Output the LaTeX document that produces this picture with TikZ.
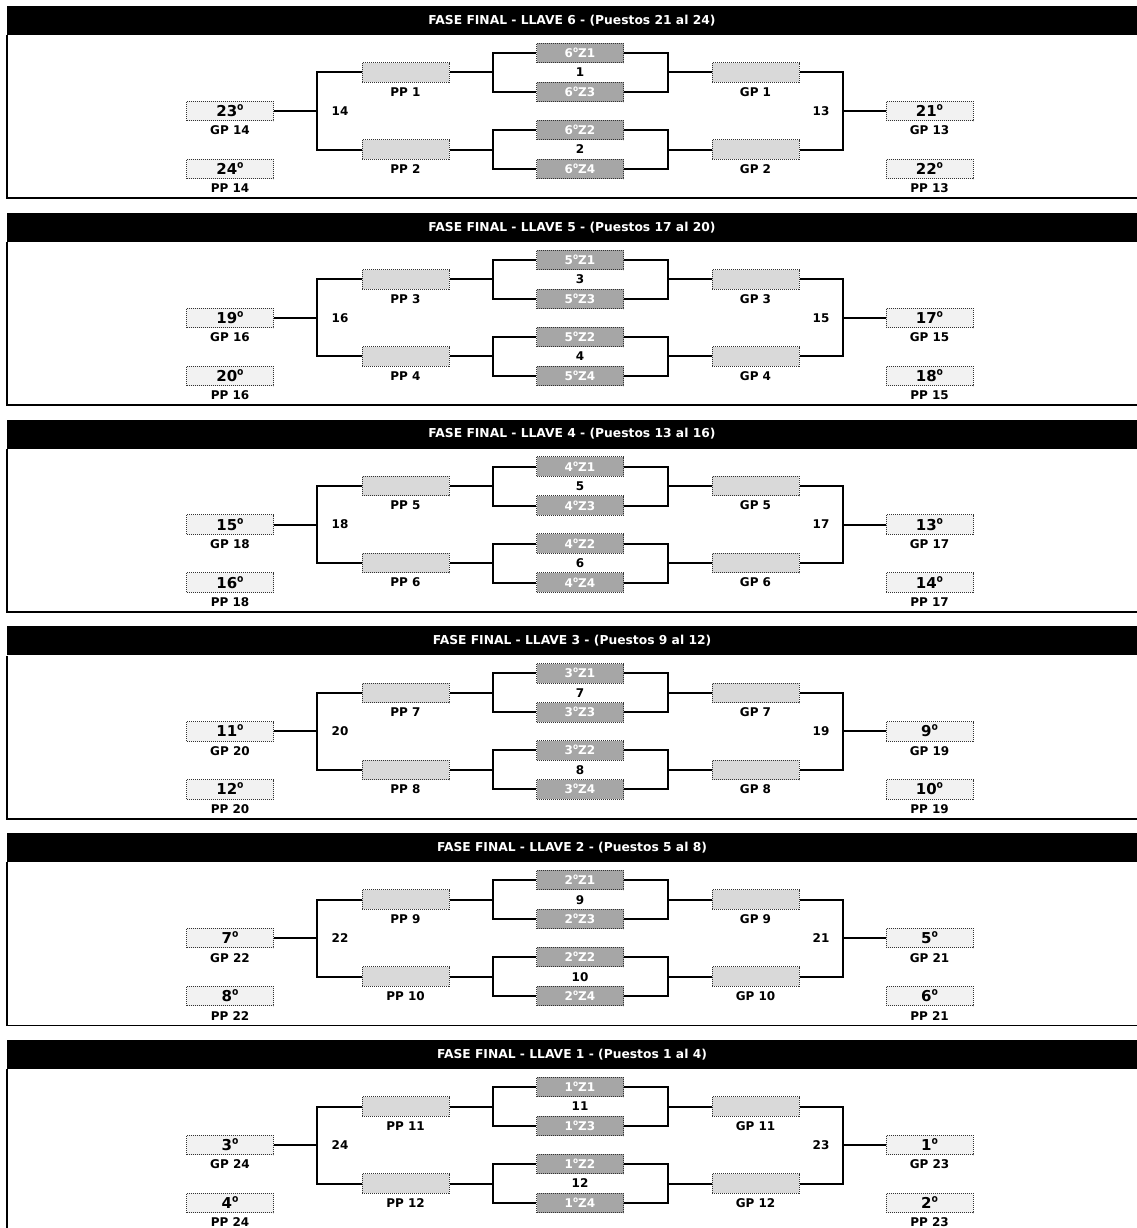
\documentclass[tikz,border=0pt]{standalone}
\usepackage{fontspec}
\setmainfont{DejaVu Sans}
\newfontfamily\ordfont[Scale=1.1]{Open Sans}
\newcommand\ord{{\ordfont\bfseries º}}
\usetikzlibrary{positioning}

\begin{document}
\begin{tikzpicture}[x=1pt,y=-1pt,
    every node/.style={font=\bfseries\fontsize{12}{14}\selectfont,inner sep=0pt},
    head/.style={fill=black,text=white,minimum width=1130pt,minimum height=29pt,
      font=\bfseries\fontsize{12.3}{14}\selectfont},
    slot/.style={draw=black!80,densely dotted,line width=1pt,
      minimum width=87pt,minimum height=19.5pt,text height=8.8pt,text depth=0pt},
    seedbox/.style={slot,fill=black!35,text=white},
    matchbox/.style={slot,fill=black!15},
    placebox/.style={slot,fill=black!5,font=\bfseries\fontsize{15}{17}\selectfont,
      text height=11pt},
    wire/.style={line width=2pt},
    frame/.style={line width=1.8pt}]
  \useasboundingbox (0,0) rectangle (1137,1228);
  % one panel per llave, llave 6 on top
  \foreach \k in {0,...,5}{
    \pgfmathtruncatemacro\lv{6-\k}
    \pgfmathtruncatemacro\pfirst{4*\lv-3}
    \pgfmathtruncatemacro\psecond{4*\lv-2}
    \pgfmathtruncatemacro\pthird{4*\lv-1}
    \pgfmathtruncatemacro\plast{4*\lv}
    \pgfmathtruncatemacro\ma{2*\k+1}
    \pgfmathtruncatemacro\mb{2*\k+2}
    \pgfmathtruncatemacro\fr{2*\k+13}
    \pgfmathtruncatemacro\fl{2*\k+14}
    \pgfmathsetmacro\yo{6+206.8*\k}
    \begin{scope}[shift={(0,\yo)}]
      % title bar and frame
      \node[head] (hd) at (572,14.5) {FASE FINAL - LLAVE \lv{} - (Puestos \pfirst{} al \plast)};
      \draw[frame] (hd.south west) -- ++(0,163) -- ++(1130,0);
      % seeded teams (centre)
      \node[seedbox] (z1) at (580,47) {\lv\ord Z1};
      \node[seedbox] (z3) at (580,86) {\lv\ord Z3};
      \node[seedbox] (z2) at (580,124) {\lv\ord Z2};
      \node[seedbox] (z4) at (580,163) {\lv\ord Z4};
      \node (na) at (580,66.5) {\ma};
      \node (nb) at (580,143.5) {\mb};
      % losers (left) and winners (right) of the first round
      \node[matchbox] (pp1) at (405.5,66.5) {};
      \node[matchbox] (pp2) at (405.5,143.5) {};
      \node[matchbox] (gp1) at (755.5,66.5) {};
      \node[matchbox] (gp2) at (755.5,143.5) {};
      \node[below=4.5pt of pp1] {PP \ma};
      \node[below=4.5pt of pp2] {PP \mb};
      \node[below=4.5pt of gp1] {GP \ma};
      \node[below=4.5pt of gp2] {GP \mb};
      % final places
      \node[placebox] (lw) at (230,105) {\pthird\ord};
      \node[placebox] (ll) at (230,163) {\plast\ord};
      \node[placebox] (rw) at (929.5,105) {\pfirst\ord};
      \node[placebox] (rl) at (929.5,163) {\psecond\ord};
      \node[below=4.5pt of lw] {GP \fl};
      \node[below=4.5pt of ll] {PP \fl};
      \node[below=4.5pt of rw] {GP \fr};
      \node[below=4.5pt of rl] {PP \fr};
      \node (nl) at (340,105) {\fl};
      \node (nr) at (821,105) {\fr};
      % bracket joints
      \coordinate (jA) at (493,66.5);
      \coordinate (jB) at (668,66.5);
      \coordinate (jC) at (493,143.5);
      \coordinate (jD) at (668,143.5);
      \coordinate (jL) at (317,105);
      \coordinate (jR) at (843,105);
      \draw[wire] (z1.west) -| (jA) |- (z3.west);
      \draw[wire] (z1.east) -| (jB) |- (z3.east);
      \draw[wire] (z2.west) -| (jC) |- (z4.west);
      \draw[wire] (z2.east) -| (jD) |- (z4.east);
      \draw[wire] (jA) -- (pp1.east);
      \draw[wire] (jC) -- (pp2.east);
      \draw[wire] (jB) -- (gp1.west);
      \draw[wire] (jD) -- (gp2.west);
      \draw[wire] (pp1.west) -| (jL) |- (pp2.west);
      \draw[wire] (gp1.east) -| (jR) |- (gp2.east);
      \draw[wire] (jL) -- (lw.east);
      \draw[wire] (jR) -- (rw.west);
    \end{scope}
  }
\end{tikzpicture}
\end{document}
